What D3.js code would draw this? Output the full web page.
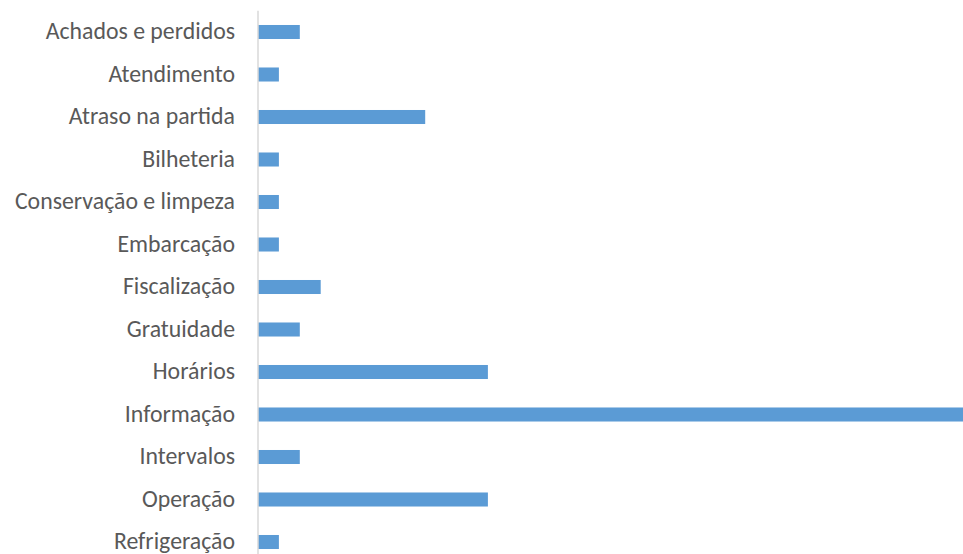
<!DOCTYPE html>
<html>
<head>
<meta charset="utf-8">
<script src="https://cdn.jsdelivr.net/npm/d3@7"></script>
<style>
  html, body { margin: 0; padding: 0; background: #fff; overflow: hidden; }
  svg { display: block; }
</style>
</head>
<body>
<svg id="chart" width="963" height="554"></svg>
<script>
// Complaint categories and their counts
const categories = [
  "Achados e perdidos", "Atendimento", "Atraso na partida", "Bilheteria",
  "Conservação e limpeza", "Embarcação", "Fiscalização", "Gratuidade",
  "Horários", "Informação", "Intervalos", "Operação", "Refrigeração"
];
const counts = [2, 1, 8, 1, 1, 1, 3, 2, 11, 34, 2, 11, 1];

const svg = d3.select("#chart");
const axisX = 258;

const x = d3.scaleLinear().domain([0, 35]).range([axisX, axisX + 35 * 20.9]);
const y = d3.scaleBand().domain(categories).range([10.75, 563.25]).paddingInner(0.67).paddingOuter(0.335);

const data = categories.map((c, i) => ({ cat: c, val: counts[i] }));

// bars
svg.append("g").selectAll("rect")
  .data(data)
  .join("rect")
  .attr("x", x(0))
  .attr("y", d => y(d.cat))
  .attr("width", d => x(d.val) - x(0))
  .attr("height", y.bandwidth())
  .attr("fill", "#5b9bd5");

// category axis
const yAxis = svg.append("g")
  .attr("transform", `translate(${axisX},0)`)
  .call(d3.axisLeft(y).tickSize(0).tickPadding(23));
yAxis.select(".domain").attr("stroke", "#d9d9d9").attr("stroke-width", 1.5)
  .attr("d", `M0,10.75V563.25`);
yAxis.selectAll("text")
  .attr("fill", "#595959")
  .attr("dy", "0.31em")
  .style("font-family", "Calibri, Carlito, 'Open Sans', sans-serif")
  .style("font-size", "23.8px");
</script>
</body>
</html>
